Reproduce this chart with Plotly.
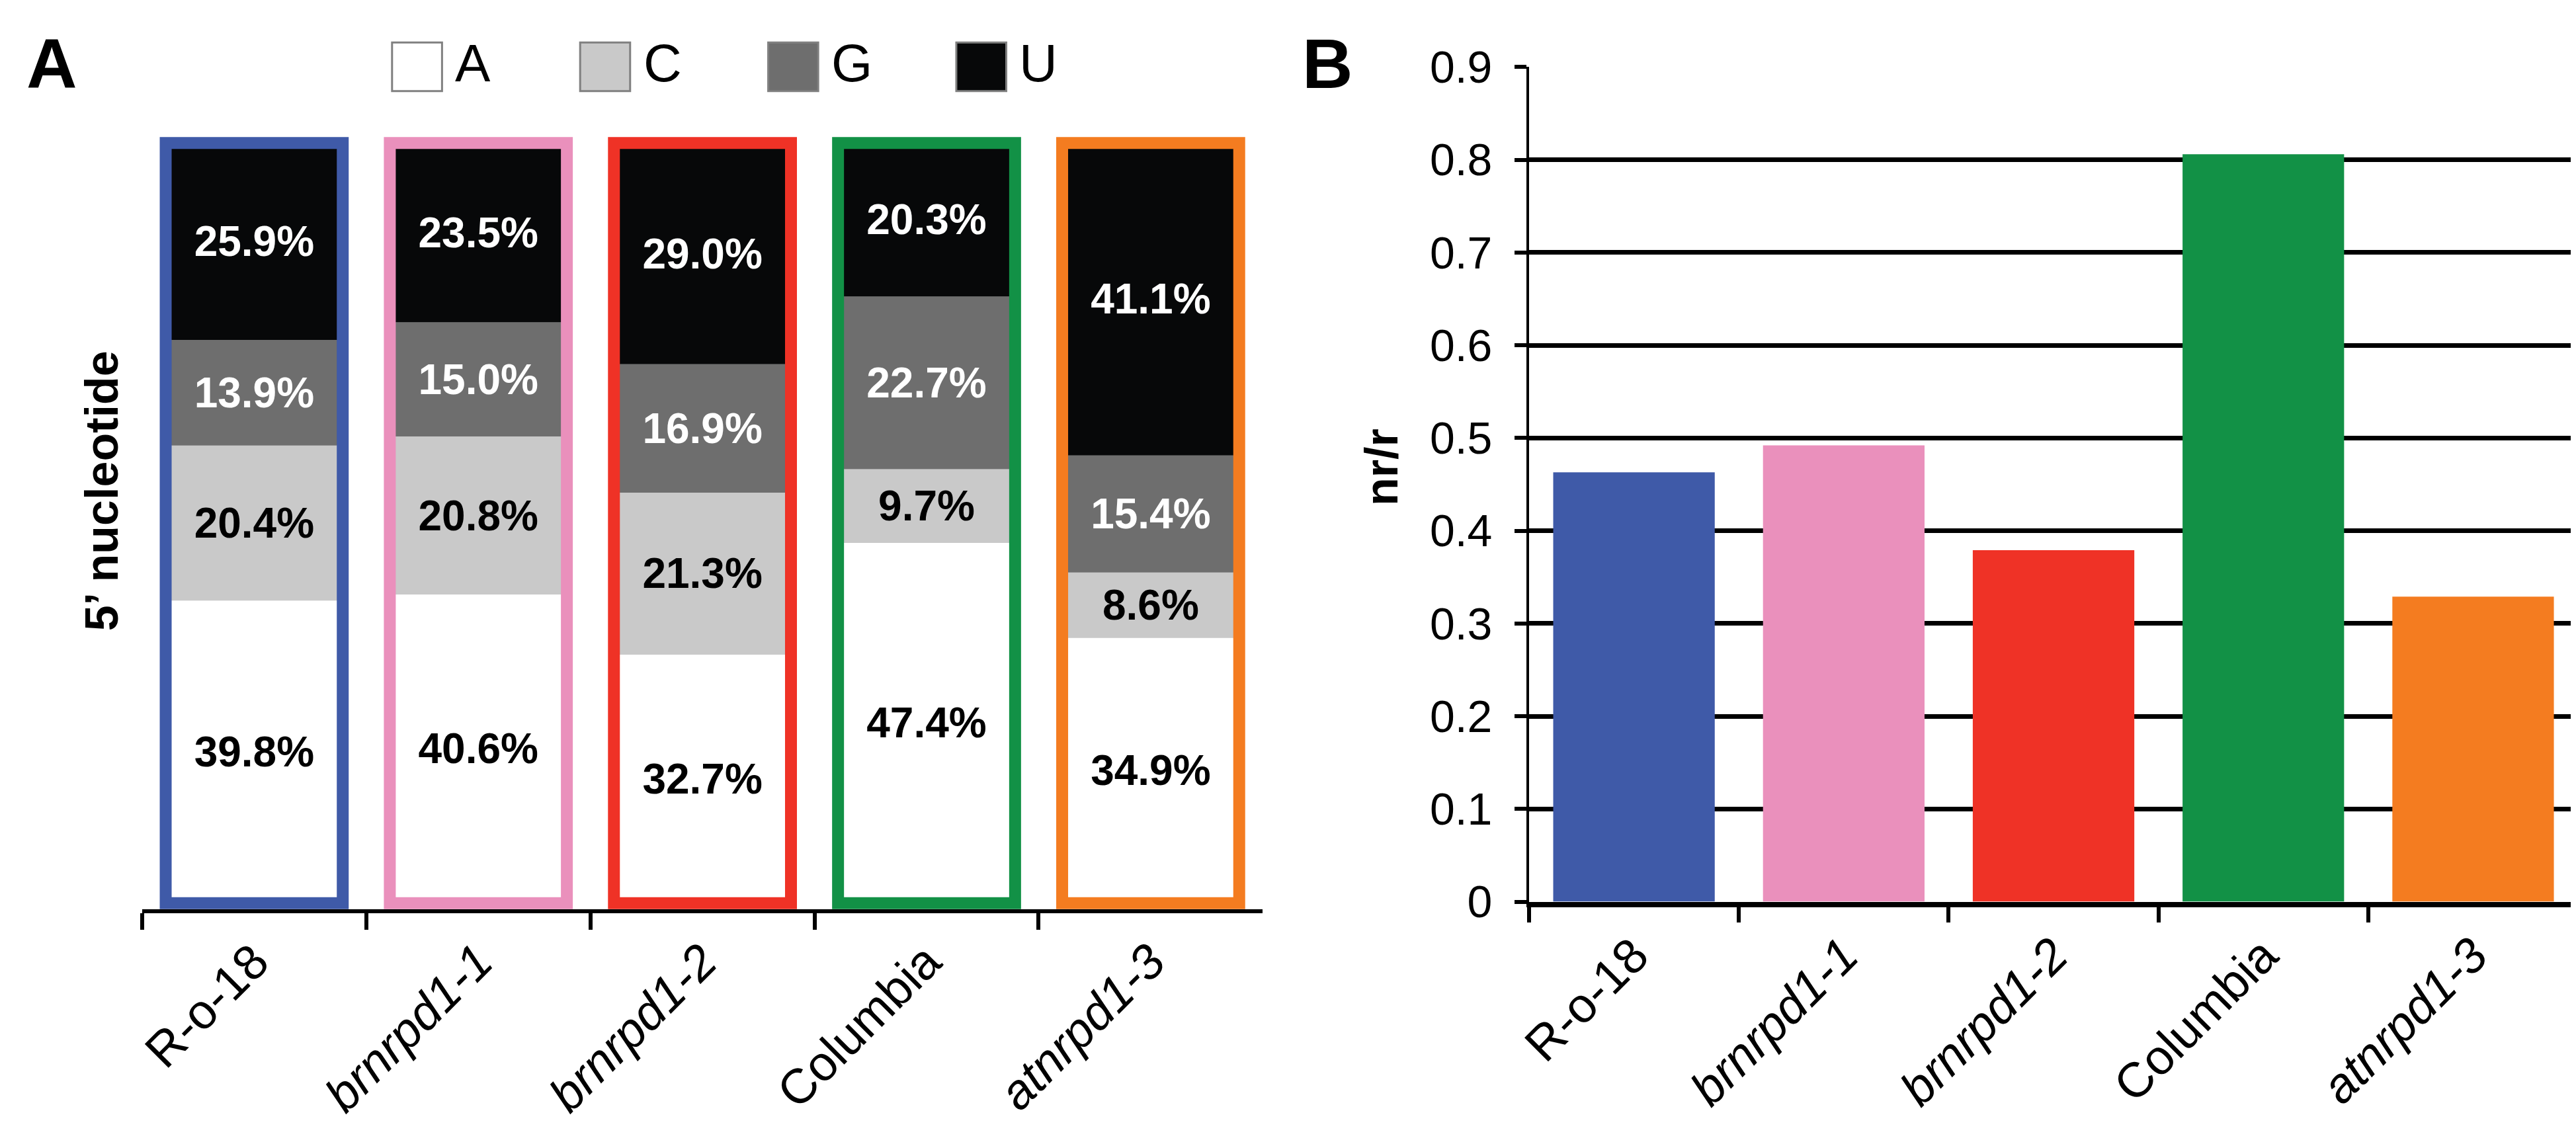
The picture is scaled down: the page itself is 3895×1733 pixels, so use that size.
import plotly.graph_objects as go

# ---- data ----
samples = ["R-o-18", "brnrpd1-1", "brnrpd1-2", "Columbia", "atnrpd1-3"]
italic = [False, True, True, False, True]
sample_colors = ["#3f5aa8", "#ea90bc", "#ef3226", "#129146", "#f47c20"]

nucleotides = ["A", "C", "G", "U"]
nuc_colors = ["#ffffff", "#c9c9c9", "#6e6e6e", "#070809"]
nuc_text = ["black", "black", "white", "white"]

# 5' nucleotide share (%), bottom to top: A, C, G, U
pct_A = [39.8, 40.6, 32.7, 47.4, 34.9]
pct_C = [20.4, 20.8, 21.3, 9.7, 8.6]
pct_G = [13.9, 15.0, 16.9, 22.7, 15.4]
pct_U = [25.9, 23.5, 29.0, 20.3, 41.1]

# panel B
nr_r = [0.463, 0.492, 0.379, 0.806, 0.329]

W, H = 3895, 1733
FONT = "Liberation Sans"

def px_x(p):
    return p / W

def px_y(p):
    return (H - p) / H

ticktext = [f"<i>{s}</i>" if it else s for s, it in zip(samples, italic)]

fig = go.Figure()

# ---- panel A: stacked segments (explicit bases so the outline can overlay) ----
base = [0.0] * len(samples)
for nuc, vals, col, tcol in zip(nucleotides, [pct_A, pct_C, pct_G, pct_U], nuc_colors, nuc_text):
    fig.add_trace(go.Bar(
        x=samples, y=vals, base=list(base), name=nuc,
        marker=dict(color=col, line=dict(width=0)),
        width=0.79,
        text=[f"<b>{v:.1f}%</b>" for v in vals],
        textposition="inside", insidetextanchor="middle", textangle=0,
        textfont=dict(family=FONT, size=64, color=tcol),
        xaxis="x", yaxis="y", showlegend=False,
    ))
    base = [b + v for b, v in zip(base, vals)]

# coloured frame around each column
fig.add_trace(go.Bar(
    x=samples, y=[100] * len(samples), base=[0] * len(samples),
    marker=dict(color="rgba(0,0,0,0)", line=dict(color=sample_colors, width=18)),
    width=0.79, xaxis="x", yaxis="y", showlegend=False, hoverinfo="skip",
))

# ---- panel B ----
fig.add_trace(go.Bar(
    x=samples, y=nr_r, marker=dict(color=sample_colors, line=dict(width=0)),
    width=0.77, xaxis="x2", yaxis="y2", showlegend=False,
))

xcommon = dict(
    type="category", categoryorder="array", categoryarray=samples,
    range=[-0.5, len(samples) - 0.5],
    tickmode="array", tickvals=samples, ticktext=ticktext,
    tickson="boundaries", ticks="outside", tickcolor="black",
    tickangle=-45, tickfont=dict(family=FONT, size=74, color="black"),
    showline=True, linecolor="black", showgrid=False, zeroline=False,
)

# legend drawn by hand (big boxes)
shapes = []
annotations = []
for i, (nuc, col) in enumerate(zip(nucleotides, nuc_colors)):
    left = 566 + i * 286
    shapes.append(dict(
        type="rect", xref="paper", yref="paper",
        x0=px_x(left), x1=px_x(left + 76), y0=px_y(96), y1=px_y(19),
        fillcolor=col, line=dict(color="#808080", width=3),
    ))
    annotations.append(dict(
        text=nuc, xref="paper", yref="paper", x=px_x(left + 94), y=px_y(52),
        xanchor="left", yanchor="middle", showarrow=False,
        font=dict(family=FONT, size=80, color="black"),
    ))

annotations += [
    dict(text="<b>A</b>", xref="paper", yref="paper", x=px_x(8), y=px_y(52),
         xanchor="left", yanchor="middle", showarrow=False,
         font=dict(family=FONT, size=106, color="black")),
    dict(text="<b>B</b>", xref="paper", yref="paper", x=px_x(1948), y=px_y(52),
         xanchor="left", yanchor="middle", showarrow=False,
         font=dict(family=FONT, size=106, color="black")),
    dict(text="<b>5’ nucleotide</b>", xref="paper", yref="paper", x=px_x(125), y=px_y(728),
         textangle=-90, showarrow=False, xanchor="center", yanchor="middle",
         font=dict(family=FONT, size=70, color="black")),
    dict(text="<b>nr/r</b>", xref="paper", yref="paper", x=px_x(2070), y=px_y(691),
         textangle=-90, showarrow=False, xanchor="center", yanchor="middle",
         font=dict(family=FONT, size=70, color="black")),
]

fig.update_layout(
    width=W, height=H, margin=dict(l=0, r=0, t=0, b=0),
    paper_bgcolor="white", plot_bgcolor="white",
    barmode="overlay", showlegend=False,
    font=dict(family=FONT, color="black"),
    xaxis=dict(domain=[px_x(186), px_x(1890)], anchor="y",
               ticklen=25, tickwidth=6, linewidth=6, **xcommon),
    yaxis=dict(domain=[px_y(1390), px_y(160)], range=[-0.8, 101.5], visible=False),
    xaxis2=dict(domain=[px_x(2295), px_x(3890)], anchor="y2",
                ticklen=23, tickwidth=6, linewidth=8, **xcommon),
    yaxis2=dict(domain=[px_y(1378), px_y(58)], anchor="x2", range=[0, 0.9],
                tick0=0, dtick=0.1, showgrid=True, gridcolor="black", gridwidth=7,
                zeroline=False, showline=True, linecolor="black", linewidth=4,
                ticks="outside", ticklen=18, tickwidth=6, tickcolor="black",
                ticklabelstandoff=20,
                tickfont=dict(family=FONT, size=68, color="black")),
    shapes=shapes, annotations=annotations,
)

fig.write_html("out.html")
